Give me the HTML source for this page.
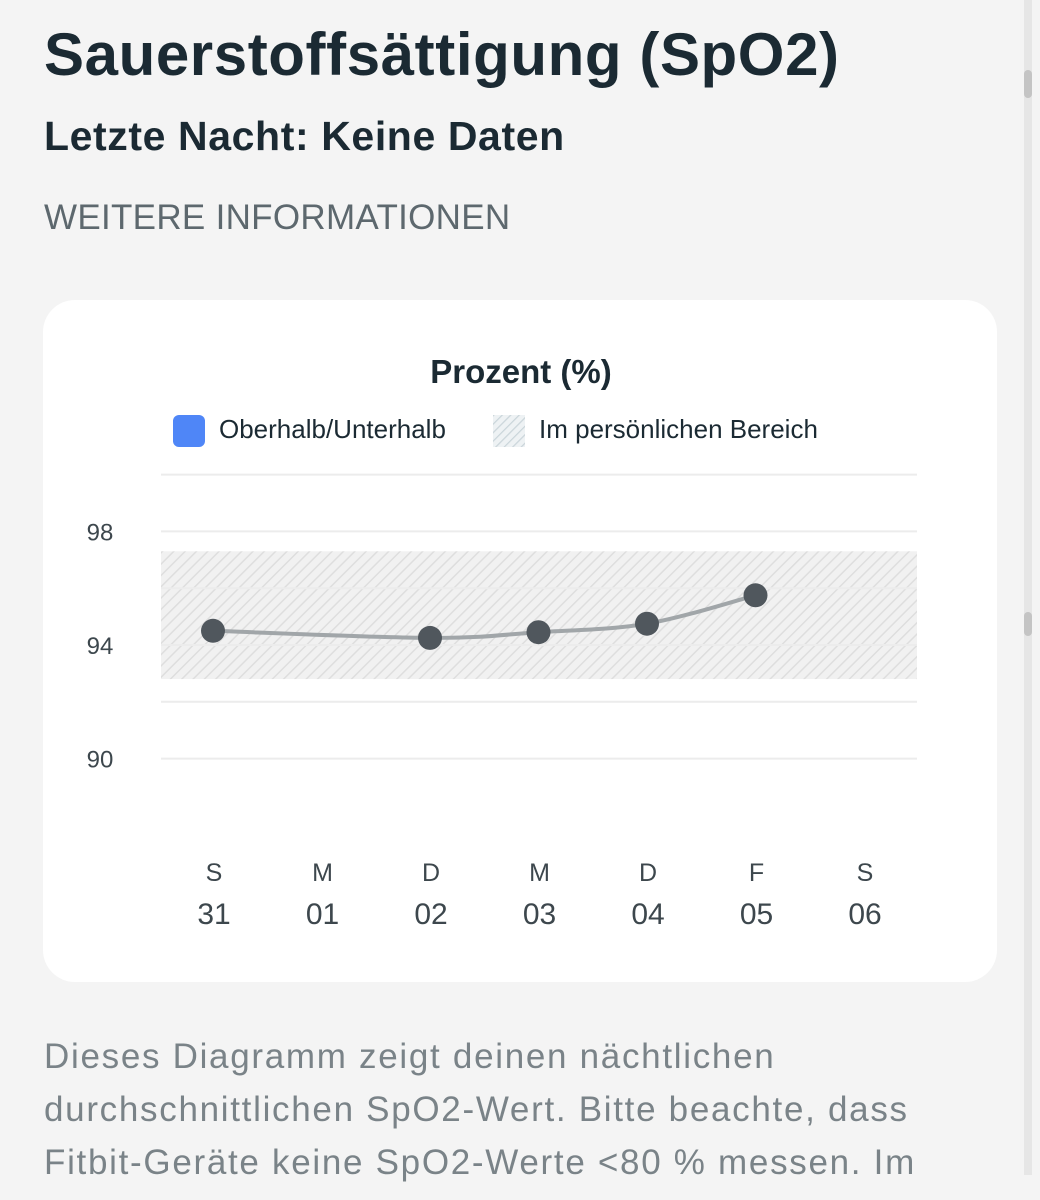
<!DOCTYPE html>
<html><head><meta charset="utf-8"><style>
body{margin:0;width:1040px;height:1200px;background:#f4f4f4;font-family:"Liberation Sans",sans-serif;overflow:hidden;position:relative}
.t{position:absolute;left:44px;white-space:nowrap}
</style></head><body>
<div class="t" style="top:20px;font-size:60px;letter-spacing:0.6px;font-weight:bold;color:#1b2a33">Sauerstoffsättigung (SpO2)</div>
<div class="t" style="top:113px;font-size:41px;letter-spacing:0.6px;font-weight:bold;color:#1b2a33">Letzte Nacht: Keine Daten</div>
<div class="t" style="top:198px;font-size:35px;letter-spacing:0.3px;color:#5d686e">WEITERE INFORMATIONEN</div>
<div style="position:absolute;left:1024px;top:0;width:8px;height:1175px;background:#e6e6e6"></div>
<div style="position:absolute;left:1024px;top:70px;width:8px;height:28px;background:#c4c4c4;border-radius:4px"></div>
<div style="position:absolute;left:1024px;top:612px;width:8px;height:24px;background:#c4c4c4;border-radius:4px"></div>
<div style="position:absolute;left:43px;top:300px;width:954px;height:682px;background:#fff;border-radius:32px"></div>
<svg style="position:absolute;left:0;top:0" width="1040" height="1000">
<defs><pattern id="hatch" width="8" height="8" patternUnits="userSpaceOnUse" patternTransform="rotate(45)"><rect width="8" height="8" fill="#f1f1f1"/><line x1="0" y1="0" x2="0" y2="8" stroke="#dedede" stroke-width="3"/></pattern>
<pattern id="hatch2" width="6" height="6" patternUnits="userSpaceOnUse" patternTransform="rotate(45)"><rect width="6" height="6" fill="#eef2f4"/><line x1="0" y1="0" x2="0" y2="6" stroke="#cad5da" stroke-width="2.5"/></pattern></defs>
<text x="521" y="383" text-anchor="middle" font-size="33" font-weight="bold" fill="#1b2a33">Prozent (%)</text>
<rect x="173" y="415" width="32" height="32" rx="6" fill="#4f86f7"/>
<text x="219" y="438" font-size="26" fill="#1b2a33">Oberhalb/Unterhalb</text>
<rect x="493" y="415" width="32" height="32" fill="url(#hatch2)"/>
<text x="539" y="438" font-size="26" fill="#1b2a33">Im persönlichen Bereich</text>
<g id="plot"></g>
</svg>
<div class="t" style="top:1030px;font-size:35px;letter-spacing:1.7px;line-height:53px;color:#7a8388">Dieses Diagramm zeigt deinen nächtlichen<br>durchschnittlichen SpO2-Wert. Bitte beachte, dass<br>Fitbit-Geräte keine SpO2-Werte &lt;80 % messen. Im</div>
<script>
const dayLetters=["S","M","D","M","D","F","S"];
const dayNumbers=["31","01","02","03","04","05","06"];
const values=[94.5,null,94.25,94.45,94.75,95.75,null];
const yTicks=[98,94,90];
const gridValues=[100,98,96,94,92,90];
const rangeLow=92.8, rangeHigh=97.3;
const NS="http://www.w3.org/2000/svg";
const g=document.getElementById('plot');
const x=i=>213+i*108.5;
const y=v=>645-(v-94)*28.4;
function el(t,a){const e=document.createElementNS(NS,t);for(const k in a)e.setAttribute(k,a[k]);g.appendChild(e);return e;}
const band=el('rect',{x:161,y:y(rangeHigh),width:756,height:y(rangeLow)-y(rangeHigh),fill:'url(#hatch)'});


gridValues.forEach(v=>{const l=el('line',{x1:161,x2:917,y1:y(v),y2:y(v),stroke:'#ececec','stroke-width':2});

});
yTicks.forEach(v=>{const t=el('text',{x:100,y:y(v)+9,'text-anchor':'middle','font-size':24,fill:'#3d474d'});t.textContent=v;

});
dayLetters.forEach((d,i)=>{const a=el('text',{x:x(i)+1,y:881,'text-anchor':'middle','font-size':25,fill:'#3d474d'});a.textContent=d;


const b=el('text',{x:x(i)+1,y:924,'text-anchor':'middle','font-size':30,fill:'#3d474d'});b.textContent=dayNumbers[i];

});
const pts=values.map((v,i)=>v==null?null:[x(i),y(v)]).filter(p=>p);
let d='M'+pts[0][0]+','+pts[0][1];
for(let i=0;i<pts.length-1;i++){const p0=pts[i-1]||pts[i],p1=pts[i],p2=pts[i+1],p3=pts[i+2]||p2;
d+=` C${p1[0]+(p2[0]-p0[0])/6},${p1[1]+(p2[1]-p0[1])/6} ${p2[0]-(p3[0]-p1[0])/6},${p2[1]-(p3[1]-p1[1])/6} ${p2[0]},${p2[1]}`;}
const line=el('path',{d:d,fill:'none',stroke:'#a1a6a9','stroke-width':4});


pts.forEach(p=>{const c=el('circle',{cx:p[0],cy:p[1],r:12,fill:'#50575d'});

});
</script>
</body></html>
